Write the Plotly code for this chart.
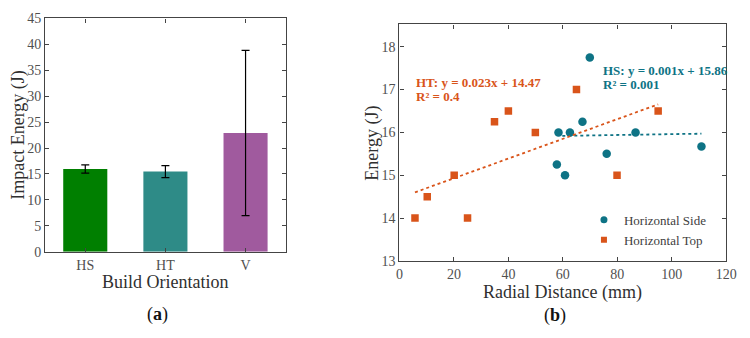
import plotly.graph_objects as go

# ---- Panel (a) data ----
orientations = ["HS", "HT", "V"]
impact_energy = [15.95, 15.45, 22.9]
impact_err = [0.8, 1.15, 15.95]
bar_colors = ["#007F00", "#2E8B87", "#A05A9E"]

# ---- Panel (b) data ----
hs_x = [58.4, 62.6, 69.9, 67.2, 57.8, 60.8, 76.1, 86.7, 110.9]
hs_y = [16.0, 16.0, 17.75, 16.25, 15.25, 15.0, 15.5, 16.0, 15.67]
ht_x = [5.7, 10.2, 20.1, 25.0, 34.9, 40.0, 49.9, 65.0, 79.9, 95.0]
ht_y = [14.0, 14.5, 15.0, 14.0, 16.25, 16.5, 16.0, 17.0, 15.0, 16.5]
hs_fit = (0.001, 15.86)
ht_fit = (0.023, 14.47)

HS_COL = "#0E7385"
HT_COL = "#D9541A"
FONT = "Liberation Serif"
TICK_COL = "#505050"
TITLE_COL = "#303030"

fig = go.Figure()

fig.add_trace(go.Bar(
    x=orientations, y=impact_energy,
    marker=dict(color=bar_colors, line=dict(width=0)),
    width=0.55,
    error_y=dict(type="data", array=impact_err, color="black", thickness=1.2, width=4),
    xaxis="x", yaxis="y", showlegend=False,
))

fig.add_trace(go.Scatter(
    x=hs_x, y=hs_y, mode="markers", name="Horizontal Side",
    marker=dict(symbol="circle", size=8.5, color=HS_COL),
    xaxis="x2", yaxis="y2", showlegend=False,
))
fig.add_trace(go.Scatter(
    x=ht_x, y=ht_y, mode="markers", name="Horizontal Top",
    marker=dict(symbol="square", size=7.5, color=HT_COL),
    xaxis="x2", yaxis="y2", showlegend=False,
))

hs_lx = [min(hs_x) + 2.0, max(hs_x)]
fig.add_trace(go.Scatter(
    x=hs_lx, y=[hs_fit[0] * v + hs_fit[1] for v in hs_lx], mode="lines",
    line=dict(color=HS_COL, width=1.8, dash="dot"), showlegend=False,
    xaxis="x2", yaxis="y2",
))
ht_lx = [min(ht_x), max(ht_x)]
fig.add_trace(go.Scatter(
    x=ht_lx, y=[ht_fit[0] * v + ht_fit[1] for v in ht_lx], mode="lines",
    line=dict(color=HT_COL, width=1.8, dash="dot"), showlegend=False,
    xaxis="x2", yaxis="y2",
))

# legend entries with small symbols (as in the reference)
fig.add_trace(go.Scatter(
    x=[None], y=[None], mode="markers", name="Horizontal Side",
    marker=dict(symbol="circle", size=7, color=HS_COL), xaxis="x2", yaxis="y2",
))
fig.add_trace(go.Scatter(
    x=[None], y=[None], mode="markers", name="Horizontal Top",
    marker=dict(symbol="square", size=6, color=HT_COL), xaxis="x2", yaxis="y2",
))

axis_common = dict(
    showline=True, linecolor="#444", linewidth=1.2, mirror="ticks",
    ticks="inside", ticklen=4, tickcolor="#444", showgrid=False, zeroline=False,
    tickfont=dict(family=FONT, size=14, color=TICK_COL),
)

fig.update_layout(
    width=750, height=338,
    margin=dict(l=0, r=0, t=0, b=0),
    paper_bgcolor="white", plot_bgcolor="white",
    font=dict(family=FONT),
    xaxis=dict(domain=[43 / 750, 288 / 750], range=[-0.5, 2.5], anchor="y", **axis_common),
    yaxis=dict(domain=[1 - 256 / 338, 1 - 12 / 338], range=[0, 45], dtick=5, anchor="x", **axis_common),
    xaxis2=dict(domain=[404 / 750, 737 / 750], range=[0, 120], dtick=20, anchor="y2", **axis_common),
    yaxis2=dict(domain=[1 - 265.7 / 338, 1 - 18.3 / 338], range=[13, 18.52], dtick=1, anchor="x2", **axis_common),
    legend=dict(
        x=592 / 750, y=1 - 207 / 338, xanchor="left", yanchor="top",
        bgcolor="rgba(0,0,0,0)", font=dict(family=FONT, size=13, color="#404040"),
        tracegroupgap=0, itemwidth=30,
    ),
)

ann = []
def txt(x, y, s, size, color, angle=0, xanchor="center"):
    ann.append(dict(
        x=x / 750, y=1 - y / 338, xref="paper", yref="paper", text=s, showarrow=False,
        textangle=angle, xanchor=xanchor, yanchor="middle",
        font=dict(family=FONT, size=size, color=color),
    ))

txt(15, 134, "Impact Energy (J)", 18, TITLE_COL, angle=-90)
txt(165, 288, "Build Orientation", 18, TITLE_COL)
txt(157, 322, "(<b>a</b>)", 18, "#111")
txt(377, 142, "Energy (J)", 18, TITLE_COL, angle=-90)
txt(570, 299, "Radial Distance (mm)", 18, TITLE_COL)
txt(563, 323, "(<b>b</b>)", 18, "#111")
txt(419, 79, "<b>HT: y = 0.023x + 14.47</b>", 13, HT_COL, xanchor="left")
txt(419, 94, "<b>R² = 0.4</b>", 13, HT_COL, xanchor="left")
txt(609, 66, "<b>HS: y = 0.001x + 15.86</b>", 13, HS_COL, xanchor="left")
txt(609, 81, "<b>R² = 0.001</b>", 13, HS_COL, xanchor="left")
fig.update_layout(annotations=ann)

fig.write_html("out.html")
